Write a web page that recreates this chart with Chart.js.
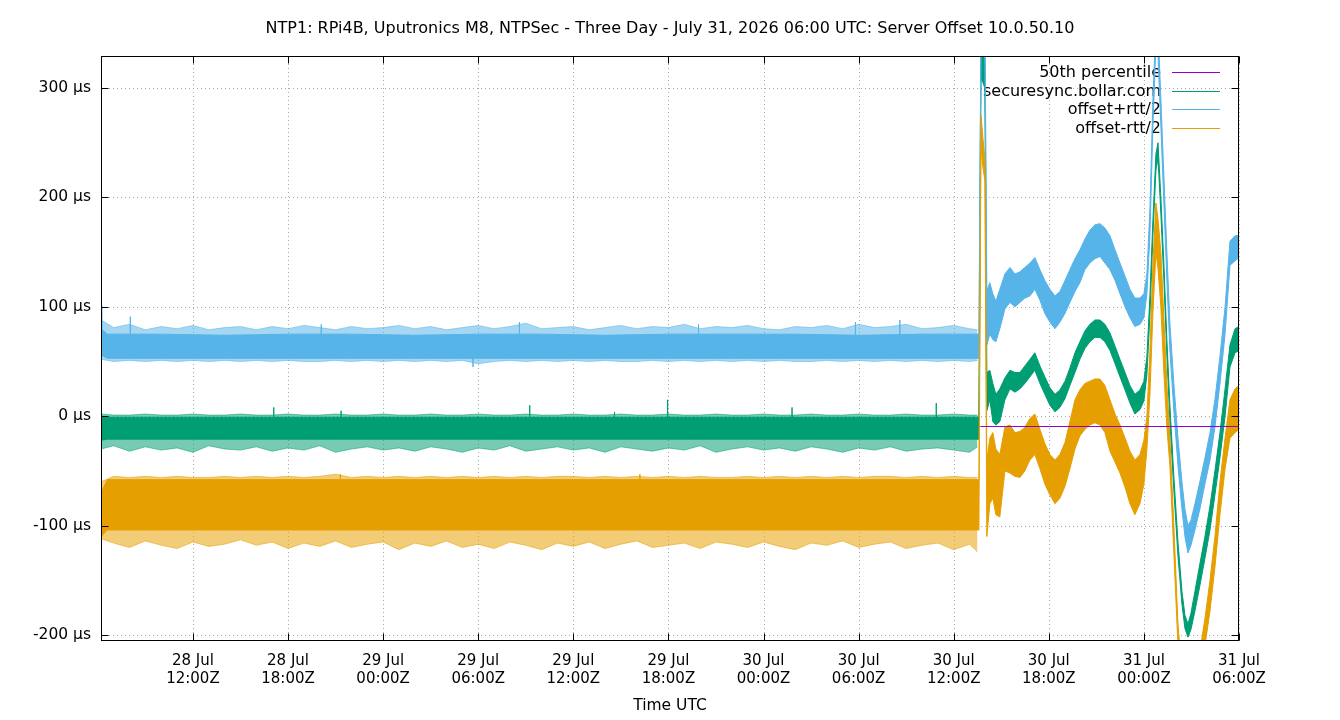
<!DOCTYPE html>
<html>
<head>
<meta charset="utf-8">
<title>NTP1 offset</title>
<script src="https://cdn.jsdelivr.net/npm/chart.js@4.4.1/dist/chart.umd.min.js"></script>
<style>
  html, body { margin: 0; padding: 0; background: #fff; }
</style>
</head>
<body>
<canvas id="ntpChart" width="1340" height="720"></canvas>
<script>
const chartTitle = 'NTP1: RPi4B, Uputronics M8, NTPSec - Three Day - July 31, 2026 06:00 UTC: Server Offset 10.0.50.10';
const xAxisTitle = 'Time UTC';
const seriesNames = ['50th percentile', 'securesync.bollar.com', 'offset+rtt/2', 'offset-rtt/2'];
const seriesColors = ['#9400d3', '#009e73', '#56b4e9', '#e69f00'];

// x values are hours since 28 Jul 00:00Z
const xTicks = [12, 18, 24, 30, 36, 42, 48, 54, 60, 66, 72, 78];
const yTicks = [-200, -100, 0, 100, 200, 300];

// 50th percentile
const percentileHours = [61.68, 77.92];
const percentileValues = [-9.4, -9.4];

// dense part of each band (upper / lower edge), µs
const bandHours = [
  6.2, 6.6, 10, 14, 18, 22, 26, 30, 34, 38, 42, 46, 50, 54, 58, 61.4,
  61.59, 61.72, 61.84, 61.97, 62.09, 62.28, 62.47, 62.66,
  62.91, 63.23, 63.55, 63.86, 64.18, 64.49, 64.81, 65.12, 65.44, 65.75,
  66.07, 66.39, 66.70, 67.02, 67.33, 67.65, 67.96, 68.28, 68.59, 68.91,
  69.23, 69.54, 69.86, 70.18, 70.49, 70.81, 71.12, 71.43, 71.75,
  72.00, 72.19, 72.38, 72.57, 72.76, 72.89, 73.07, 73.26, 73.45, 73.64,
  73.89, 74.15, 74.40, 74.59, 74.78, 74.97, 75.22,
  75.53, 75.85, 76.17, 76.48, 76.80, 77.12, 77.43, 77.75, 78.00
];
const plusHi = [
  80, 75, 75, 74, 75, 75, 74, 75, 75, 74, 75, 75, 75, 74, 75, 75,
  75, 360, 360, 360, 115, 122, 112, 105,
  116, 130, 136, 130, 132, 136, 140, 145, 134, 124,
  116, 110, 114, 124, 134, 144, 152, 162, 170, 175,
  176, 172, 165, 152, 140, 128, 116, 108, 108,
  112, 130, 190, 290, 360, 355, 290, 220, 150, 85,
  30, -20, -60, -85, -100, -95, -80,
  -60, -38, -15, 15, 55, 100, 160, 165, 165
];
const plusLo = [
  56, 53, 53, 53, 53, 53, 53, 53, 53, 53, 53, 53, 53, 53, 53, 53,
  53, 345, 345, 345, 65, 75, 70, 68,
  80, 98, 104, 100, 104, 108, 110, 116, 106, 94,
  86, 80, 86, 94, 104, 114, 122, 134, 140, 144,
  146, 140, 134, 124, 112, 100, 90, 82, 84,
  90, 112, 165, 265, 340, 330, 265, 195, 125, 60,
  5, -45, -85, -110, -125, -118, -104,
  -85, -62, -40, -10, 30, 75, 138, 142, 145
];
const offsetHi = [
  0, -1, -1, -1, -1, -1, -1, -1, -1, -1, -1, -1, -1, -1, -1, -1,
  -1, 340, 332, 325, 40, 42, 30, 20,
  25, 35, 42, 40, 40, 46, 52, 58, 46, 36,
  26, 20, 24, 32, 44, 58, 68, 78, 84, 88,
  88, 84, 76, 64, 52, 40, 28, 20, 24,
  32, 55, 110, 180, 240, 250, 200, 140, 70, 10,
  -55, -115, -160, -182, -190, -180, -160,
  -135, -110, -82, -50, -15, 25, 65, 80, 82
];
const offsetLo = [
  -22, -21, -21, -21, -21, -21, -21, -21, -21, -21, -21, -21, -21, -21, -21, -21,
  -21, 310, 305, 300, 5, 15, -5, -8,
  -5, 15, 25, 22, 25, 30, 36, 42, 30, 20,
  10, 4, 8, 16, 28, 40, 52, 62, 68, 72,
  72, 68, 60, 48, 36, 24, 12, 2, 6,
  14, 38, 92, 165, 225, 236, 185, 125, 55, -5,
  -68, -128, -172, -194, -202, -195, -178,
  -155, -130, -104, -72, -38, 0, 45, 58, 60
];
const minusHi = [
  -70, -58, -58, -58, -58, -58, -58, -58, -58, -58, -58, -58, -58, -58, -58, -58,
  -58, 275, 255, 235, -40, -20, -15, -30,
  -35, -10, -8, -15, -14, -10, -2, 2, -12, -25,
  -35, -40, -35, -24, -5, 15, 24, 30, 32, 34,
  34, 28, 15, 2, -8, -20, -32, -40, -35,
  -22, 0, 60, 140, 195, 180, 150, 90, 30, -20,
  -100, -190, -235, -250, -255, -250, -240,
  -215, -185, -150, -110, -60, -20, 15, 25, 28
];
const minusLo = [
  -110, -104, -104, -104, -104, -104, -104, -104, -104, -104, -104, -104, -104, -104, -104, -104,
  -104, 245, 228, 215, -110, -80, -75, -90,
  -92, -50, -52, -55, -56, -50, -40, -35, -48, -62,
  -72, -80, -75, -64, -48, -30, -18, -12, -8, -6,
  -8, -15, -32, -42, -52, -65, -80, -90, -80,
  -62, -30, 20, 95, 150, 135, 100, 40, -10, -45,
  -125, -210, -255, -270, -275, -270, -262,
  -238, -210, -178, -138, -90, -48, -20, -15, -12
];

// sparse noise around the flat part (lighter fringe)
const fringeHours = [
  6.2, 7, 8, 9, 10, 11, 12, 13, 14, 15,
  16, 17, 18, 19, 20, 21, 22, 23, 24, 25,
  26, 27, 28, 29, 30, 31, 32, 33, 34, 35,
  36, 37, 38, 39, 40, 41, 42, 43, 44, 45,
  46, 47, 48, 49, 50, 51, 52, 53, 54, 55,
  56, 57, 58, 59, 60, 61, 61.5
];
const plusFringeHi = [
  88, 81, 84, 79, 82, 80, 83, 79, 81, 82,
  79, 82, 80, 83, 81, 79, 82, 80, 81, 83,
  80, 82, 79, 81, 83, 80, 82, 85, 80, 81,
  82, 79, 81, 83, 80, 82, 81, 84, 80, 82,
  81, 83, 80, 79, 82, 81, 83, 80, 84, 81,
  82, 84, 80, 81, 83, 80, 79
];
const plusFringeLo = [
  52, 50, 51, 50, 51, 50, 51, 50, 51, 50,
  51, 50, 51, 50, 50, 51, 50, 51, 50, 51,
  50, 51, 50, 51, 48, 50, 51, 50, 51, 50,
  51, 50, 51, 50, 50, 51, 50, 51, 50, 51,
  50, 51, 50, 51, 50, 50, 51, 50, 51, 50,
  51, 50, 51, 50, 51, 50, 51
];
const offsetFringeHi = [
  2, 1, 1, 2, 1, 1, 2, 1, 1, 2,
  1, 1, 2, 1, 1, 2, 1, 1, 2, 1,
  1, 2, 1, 1, 2, 1, 1, 2, 1, 1,
  2, 1, 1, 2, 1, 1, 2, 1, 1, 2,
  1, 1, 2, 1, 1, 2, 1, 1, 2, 1,
  1, 2, 1, 1, 2, 1, 1
];
const offsetFringeLo = [
  -30, -27, -32, -28, -31, -29, -33, -27, -30, -31,
  -28, -32, -29, -31, -27, -33, -30, -28, -31, -29,
  -32, -28, -30, -33, -29, -31, -27, -32, -30, -28,
  -31, -29, -33, -28, -30, -32, -29, -31, -27, -33,
  -30, -28, -31, -29, -32, -28, -30, -33, -29, -31,
  -28, -32, -30, -29, -31, -33, -28
];
const minusFringeHi = [
  -60, -55, -56, -55, -56, -55, -56, -56, -55, -56,
  -55, -56, -55, -56, -55, -53, -56, -55, -56, -55,
  -56, -55, -56, -55, -56, -55, -56, -55, -56, -55,
  -55, -56, -55, -56, -55, -56, -55, -56, -55, -56,
  -56, -55, -56, -55, -56, -55, -56, -55, -56, -55,
  -55, -56, -55, -56, -55, -56, -56
];
const minusFringeLo = [
  -112, -116, -120, -114, -118, -121, -115, -119, -117, -113,
  -118, -115, -121, -116, -119, -114, -120, -117, -115, -122,
  -116, -119, -114, -120, -117, -121, -115, -118, -122, -116,
  -119, -115, -121, -117, -114, -120, -118, -116, -121, -115,
  -117, -120, -115, -119, -122, -116, -118, -114, -120, -117,
  -115, -121, -118, -116, -122, -117, -124
];

// single outliers: hour, where the spike leaves the band, tip
const plusSpikeHours = [6.25, 8.05, 20.1, 29.67, 32.6, 43.9, 53.8, 56.6];
const plusSpikeBase = [72, 72, 72, 56, 72, 72, 72, 72];
const plusSpikeTips = [101, 91, 84, 45, 86, 84, 86, 88];
const offsetSpikeHours = [17.1, 21.35, 33.25, 38.6, 41.95, 49.8, 58.9];
const offsetSpikeBase = [-4, -4, -4, -4, -4, -4, -4];
const offsetSpikeTips = [8, 5, 10, 4, 15, 8, 12];
const minusSpikeHours = [21.3, 40.2];
const minusSpikeBase = [-62, -62];
const minusSpikeTips = [-53, -53];

function pts(hours, vals) {
  return hours.map((h, i) => ({ x: h, y: vals[i] }));
}

function spikes(hours, base, tips) {
  const out = [];
  hours.forEach((h, i) => {
    out.push({ x: h, y: base[i] }, { x: h, y: tips[i] }, { x: h, y: base[i] });
  });
  return out;
}

// hi edge then lo edge filled back to it
function band(hours, hi, lo, color, order) {
  return [
    { data: pts(hours, hi), borderColor: color, borderWidth: 1, pointRadius: 0, fill: false, order: order },
    { data: pts(hours, lo), borderColor: color, backgroundColor: color, borderWidth: 1, pointRadius: 0, fill: '-1', order: order }
  ];
}

const purple = seriesColors[0], green = seriesColors[1], blue = seriesColors[2], orange = seriesColors[3];

let datasets = [];
datasets.push({ data: pts(percentileHours, percentileValues), borderColor: purple, borderWidth: 1, pointRadius: 0, fill: false, order: 0 });
datasets = datasets.concat(band(bandHours, minusHi, minusLo, orange, 1));
datasets.push({ data: spikes(minusSpikeHours, minusSpikeBase, minusSpikeTips), borderColor: orange, borderWidth: 1, pointRadius: 0, fill: false, order: 1 });
datasets = datasets.concat(band(fringeHours, minusFringeHi, minusFringeLo, orange + '88', 2));
datasets = datasets.concat(band(bandHours, plusHi, plusLo, blue, 3));
datasets.push({ data: spikes(plusSpikeHours, plusSpikeBase, plusSpikeTips), borderColor: blue, borderWidth: 1, pointRadius: 0, fill: false, order: 3 });
datasets = datasets.concat(band(fringeHours, plusFringeHi, plusFringeLo, blue + '88', 4));
datasets = datasets.concat(band(bandHours, offsetHi, offsetLo, green, 5));
datasets.push({ data: spikes(offsetSpikeHours, offsetSpikeBase, offsetSpikeTips), borderColor: green, borderWidth: 1, pointRadius: 0, fill: false, order: 5 });
datasets = datasets.concat(band(fringeHours, offsetFringeHi, offsetFringeLo, green + '88', 6));

function xLabel(v) {
  const day = 28 + Math.floor(v / 24);
  const hh = String(v % 24).padStart(2, '0');
  return [day + ' Jul', hh + ':00Z'];
}

const gnuplotFrame = {
  id: 'gnuplotFrame',
  beforeDraw(chart) {
    const ctx = chart.ctx;
    ctx.save();
    ctx.fillStyle = '#fff';
    ctx.fillRect(0, 0, chart.width, chart.height);
    ctx.restore();
  },
  beforeDatasetsDraw(chart) {
    const { ctx, chartArea: a, scales } = chart;
    ctx.save();
    // dotted grid
    ctx.strokeStyle = '#a8a8a8';
    ctx.lineWidth = 1;
    ctx.setLineDash([1, 3]);
    xTicks.forEach(v => {
      const px = Math.round(scales.x.getPixelForValue(v)) + 0.5;
      ctx.beginPath(); ctx.moveTo(px, a.top); ctx.lineTo(px, a.bottom); ctx.stroke();
    });
    yTicks.forEach(v => {
      const py = Math.round(scales.y.getPixelForValue(v)) + 0.5;
      ctx.beginPath(); ctx.moveTo(a.left, py); ctx.lineTo(a.right, py); ctx.stroke();
    });
    ctx.setLineDash([]);

    ctx.fillStyle = '#000';
    ctx.font = '16px "DejaVu Sans"';
    ctx.textAlign = 'center';
    ctx.textBaseline = 'middle';
    ctx.fillText(chartTitle, (a.left + a.right) / 2, 29);
    ctx.font = '15.5px "DejaVu Sans"';
    ctx.fillText(xAxisTitle, (a.left + a.right) / 2, 706);

    // key, gnuplot style: text right aligned, sample to the right
    ctx.font = '16px "DejaVu Sans"';
    ctx.textAlign = 'right';
    seriesNames.forEach((name, i) => {
      const ry = 73 + i * 18.6;
      ctx.fillStyle = '#000';
      ctx.fillText(name, 1161, ry);
      ctx.strokeStyle = seriesColors[i];
      ctx.beginPath();
      ctx.moveTo(1172, Math.round(ry) - 0.5);
      ctx.lineTo(1220, Math.round(ry) - 0.5);
      ctx.stroke();
    });
    ctx.restore();
  },
  afterDatasetsDraw(chart) {
    const { ctx, chartArea: a, scales } = chart;
    const L = a.left + 0.5, R = a.right - 0.5, T = a.top + 0.5, B = a.bottom - 0.5;
    ctx.save();
    ctx.strokeStyle = '#000';
    ctx.lineWidth = 1;
    ctx.strokeRect(L, T, R - L, B - T);
    ctx.beginPath();
    yTicks.forEach(v => {
      const py = Math.round(scales.y.getPixelForValue(v)) + 0.5;
      ctx.moveTo(L, py); ctx.lineTo(L + 7, py);
      ctx.moveTo(R, py); ctx.lineTo(R - 7, py);
    });
    xTicks.forEach(v => {
      const px = Math.round(scales.x.getPixelForValue(v)) + 0.5;
      ctx.moveTo(px, B); ctx.lineTo(px, B - 7);
      ctx.moveTo(px, T); ctx.lineTo(px, T + 7);
    });
    ctx.stroke();
    ctx.restore();
  }
};

Chart.defaults.font.family = '"DejaVu Sans"';
Chart.defaults.font.size = 15;
Chart.defaults.color = '#000';

new Chart('ntpChart', {
  type: 'line',
  data: { datasets: datasets },
  options: {
    responsive: false,
    devicePixelRatio: 1,
    animation: false,
    events: [],
    layout: { padding: { top: 56, left: 0, right: 101, bottom: 0 } },
    elements: { line: { tension: 0 } },
    datasets: { line: { clip: 0 } },
    plugins: {
      legend: { display: false },
      title: { display: false },
      tooltip: { enabled: false }
    },
    scales: {
      x: {
        type: 'linear',
        min: 6.2,
        max: 78,
        grid: { display: false, drawTicks: false },
        border: { display: false },
        afterBuildTicks: s => { s.ticks = xTicks.map(v => ({ value: v })); },
        afterFit: s => { s.height = 79; },
        ticks: {
          autoSkip: false,
          maxRotation: 0,
          minRotation: 0,
          padding: 11,
          color: '#000',
          callback: v => xLabel(v)
        }
      },
      y: {
        type: 'linear',
        min: -205.5,
        max: 329.3,
        grid: { display: false, drawTicks: false },
        border: { display: false },
        afterBuildTicks: s => { s.ticks = yTicks.map(v => ({ value: v })); },
        afterFit: s => { s.width = 101; },
        ticks: {
          padding: 10,
          color: '#000',
          font: { size: 15.5 },
          callback: v => v + ' µs'
        }
      }
    }
  },
  plugins: [gnuplotFrame]
});
</script>
</body>
</html>
